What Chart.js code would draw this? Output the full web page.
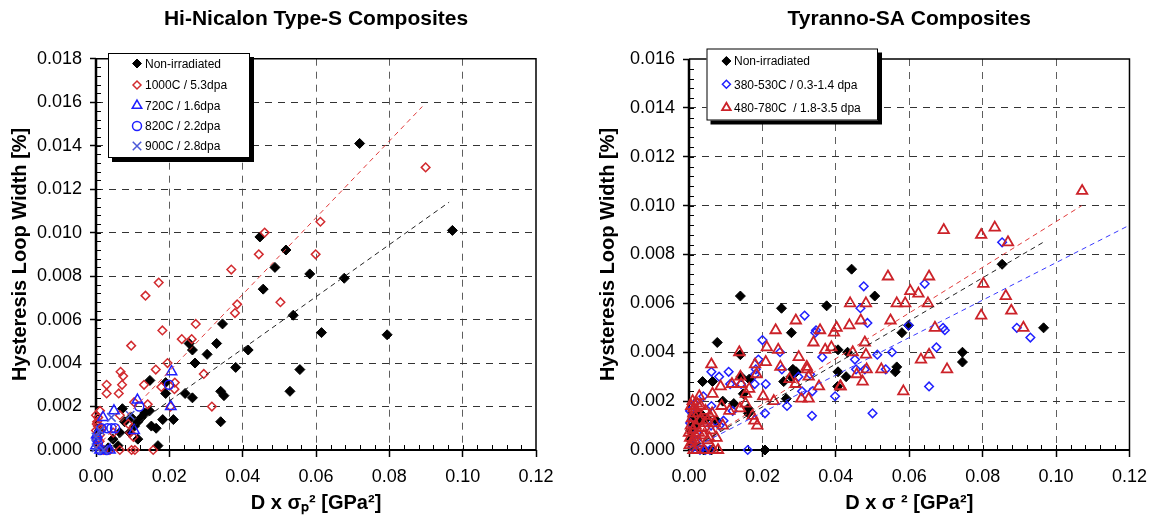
<!DOCTYPE html>
<html><head><meta charset="utf-8">
<script src="https://cdn.jsdelivr.net/npm/chart.js@4.4.1/dist/chart.umd.min.js"></script>
<style>
html,body{margin:0;padding:0;background:#fff;overflow:hidden;width:1156px;height:517px;}
.wrap{position:absolute;top:0;width:578px;height:517px;}
</style></head><body>
<div class="wrap" style="left:0"><canvas id="c1" width="578" height="517"></canvas></div>
<div class="wrap" style="left:578px"><canvas id="c2" width="578" height="517"></canvas></div>
<script>
// ---------- Hi-Nicalon Type-S (left) ----------
const hnTitle = 'Hi-Nicalon Type-S Composites';
const hnLabels = ['Non-irradiated','1000C / 5.3dpa','720C / 1.6dpa','820C / 2.2dpa','900C / 2.8dpa'];
const hnNonIrr = [[0.0719,0.0141],[0.0972,0.0101],[0.0447,0.0098],[0.0518,0.0092],[0.0488,0.0084],[0.0456,0.0074],[0.0583,0.0081],[0.0677,0.0079],[0.0538,0.0062],[0.0615,0.0054],[0.0794,0.0053],[0.0345,0.0058],[0.0329,0.0049],[0.0303,0.0044],[0.0415,0.0046],[0.0254,0.0049],[0.0263,0.0046],[0.0270,0.0040],[0.0381,0.0038],[0.0556,0.0037],[0.0529,0.0027],[0.0340,0.0027],[0.0349,0.0025],[0.0340,0.0013],[0.0243,0.0026],[0.0263,0.0024],[0.0211,0.0014],[0.0190,0.0026],[0.0190,0.0031],[0.0182,0.0014],[0.0147,0.0032],[0.0146,0.0018],[0.0133,0.0017],[0.0124,0.0015],[0.0072,0.0019],[0.0096,0.0015],[0.0114,0.0013],[0.0105,0.0011],[0.0092,0.0008],[0.0114,0.0005],[0.0151,0.0011],[0.0164,0.0010],[0.0169,0.0002],[0.0046,0.0005],[0.0060,0.0002],[0.0033,0.0001],[0.0078,0.0013],[0.0065,0.0008],[0.0010,0.0009]];
const hn1000C = [[0.0899,0.0130],[0.0612,0.0105],[0.0460,0.0100],[0.0444,0.0090],[0.0599,0.0090],[0.0369,0.0083],[0.0171,0.0077],[0.0135,0.0071],[0.0385,0.0067],[0.0379,0.0063],[0.0503,0.0068],[0.0181,0.0055],[0.0272,0.0058],[0.0234,0.0051],[0.0261,0.0051],[0.0096,0.0048],[0.0163,0.0037],[0.0195,0.0040],[0.0294,0.0035],[0.0067,0.0036],[0.0074,0.0034],[0.0029,0.0030],[0.0029,0.0026],[0.0062,0.0026],[0.0071,0.0030],[0.0131,0.0030],[0.0178,0.0029],[0.0215,0.0031],[0.0214,0.0028],[0.0316,0.0020],[0.0141,0.0021],[0.0104,0.0022],[0.0203,0.0020],[0.0088,0.0012],[0.0065,0.0016],[0.0047,0.0008],[0.0011,0.0018],[0.0006,0.0015],[0.0002,0.0012],[0.0000,0.0009],[0.0002,0.0005],[0.0011,0.0007],[0.0065,0.0000],[0.0097,0.0000],[0.0106,0.0000],[0.0156,0.0000],[0.0038,0.0000],[0.0020,0.0000],[0.0006,0.0002],[0.0102,0.0006],[0.0093,0.0008],[0.0000,0.0016],[0.0005,0.0011],[0.0003,0.0013],[0.0010,0.0004],[0.0015,0.0010]];
const hn720C = [[0.0206,0.0036],[0.0204,0.0020],[0.0113,0.0023],[0.0104,0.0009],[0.0049,0.0018],[0.0019,0.0015],[0.0011,0.0000],[0.0038,0.0000],[0.0002,0.0007],[0.0000,0.0002]];
const hn820C = [[0.0199,0.0030],[0.0118,0.0020],[0.0031,0.0010],[0.0042,0.0010],[0.0052,0.0010],[0.0015,0.0010],[0.0002,0.0005],[0.0005,0.0003],[0.0011,0.0000],[0.0029,0.0000]];
const hn900C = [[0.0093,0.0016],[0.0042,0.0015],[0.0011,0.0009],[0.0000,0.0001],[0.0000,0.0006],[0.0020,0.0000]];
const hnFit1000X = [0.0000, 0.0890], hnFit1000Y = [0.0001, 0.0158];
const hnFitNonX = [0.0020, 0.0963], hnFitNonY = [0.0001, 0.0114];

// ---------- Tyranno-SA (right) ----------
const tsTitle = 'Tyranno-SA Composites';
const tsLabels = ['Non-irradiated','380-530C / 0.3-1.4 dpa','480-780C  / 1.8-3.5 dpa'];
const tsNonIrr = [[0.0443,0.0074],[0.0853,0.0076],[0.0966,0.0050],[0.0745,0.0040],[0.0745,0.0036],[0.0506,0.0063],[0.0580,0.0048],[0.0598,0.0051],[0.0566,0.0034],[0.0562,0.0032],[0.0406,0.0041],[0.0432,0.0040],[0.0406,0.0032],[0.0405,0.0026],[0.0428,0.0030],[0.0375,0.0059],[0.0252,0.0058],[0.0279,0.0048],[0.0283,0.0033],[0.0292,0.0032],[0.0278,0.0030],[0.0258,0.0028],[0.0265,0.0021],[0.0140,0.0063],[0.0077,0.0044],[0.0140,0.0039],[0.0142,0.0030],[0.0164,0.0029],[0.0148,0.0023],[0.0161,0.0017],[0.0162,0.0015],[0.0037,0.0028],[0.0064,0.0028],[0.0092,0.0020],[0.0122,0.0019],[0.0031,0.0015],[0.0012,0.0010],[0.0048,0.0013],[0.0075,0.0012],[0.0005,0.0004],[0.0207,0.0000],[0.0061,0.0000],[0.0040,0.0000],[0.0013,0.0014],[0.0035,0.0014],[0.0005,0.0008],[0.0025,0.0011]];
const ts380 = [[0.0853,0.0085],[0.0642,0.0068],[0.0476,0.0067],[0.0467,0.0058],[0.0486,0.0052],[0.0315,0.0055],[0.0200,0.0045],[0.0344,0.0048],[0.0346,0.0049],[0.0598,0.0051],[0.0692,0.0050],[0.0697,0.0049],[0.0893,0.0050],[0.0930,0.0046],[0.0674,0.0042],[0.0553,0.0040],[0.0513,0.0039],[0.0363,0.0038],[0.0452,0.0037],[0.0455,0.0033],[0.0479,0.0033],[0.0536,0.0033],[0.0248,0.0040],[0.0253,0.0033],[0.0189,0.0037],[0.0182,0.0033],[0.0179,0.0027],[0.0209,0.0027],[0.0298,0.0030],[0.0308,0.0024],[0.0336,0.0024],[0.0330,0.0031],[0.0398,0.0022],[0.0335,0.0014],[0.0267,0.0018],[0.0207,0.0015],[0.0654,0.0026],[0.0500,0.0015],[0.0061,0.0032],[0.0082,0.0030],[0.0108,0.0032],[0.0112,0.0027],[0.0142,0.0027],[0.0180,0.0031],[0.0016,0.0019],[0.0039,0.0022],[0.0061,0.0018],[0.0119,0.0016],[0.0094,0.0012],[0.0160,0.0000],[0.0057,0.0000],[0.0030,0.0000],[0.0010,0.0001],[0.0003,0.0011],[0.0021,0.0007],[0.0083,0.0010],[0.0020,0.0004],[0.0060,0.0010],[0.0003,0.0016],[0.0045,0.0000]];
const ts480 = [[0.1071,0.0106],[0.0694,0.0090],[0.0796,0.0088],[0.0833,0.0091],[0.0869,0.0085],[0.0542,0.0071],[0.0654,0.0071],[0.0603,0.0065],[0.0625,0.0064],[0.0439,0.0060],[0.0482,0.0060],[0.0566,0.0060],[0.0589,0.0060],[0.0651,0.0060],[0.0802,0.0068],[0.0863,0.0063],[0.0878,0.0057],[0.0796,0.0055],[0.0549,0.0053],[0.0468,0.0053],[0.0437,0.0051],[0.0670,0.0050],[0.0911,0.0050],[0.0479,0.0044],[0.0446,0.0040],[0.0482,0.0039],[0.0484,0.0033],[0.0457,0.0031],[0.0473,0.0028],[0.0524,0.0033],[0.0632,0.0037],[0.0654,0.0039],[0.0703,0.0033],[0.0584,0.0024],[0.0412,0.0026],[0.0291,0.0053],[0.0236,0.0049],[0.0212,0.0042],[0.0243,0.0041],[0.0299,0.0038],[0.0339,0.0044],[0.0357,0.0049],[0.0395,0.0048],[0.0402,0.0050],[0.0371,0.0041],[0.0388,0.0042],[0.0137,0.0040],[0.0061,0.0035],[0.0180,0.0035],[0.0209,0.0036],[0.0249,0.0034],[0.0321,0.0034],[0.0326,0.0030],[0.0354,0.0026],[0.0306,0.0021],[0.0326,0.0021],[0.0413,0.0026],[0.0231,0.0020],[0.0086,0.0026],[0.0064,0.0023],[0.0140,0.0030],[0.0142,0.0027],[0.0184,0.0031],[0.0164,0.0025],[0.0155,0.0023],[0.0202,0.0022],[0.0139,0.0017],[0.0110,0.0016],[0.0092,0.0010],[0.0057,0.0014],[0.0186,0.0010],[0.0178,0.0012],[0.0173,0.0014],[0.0028,0.0022],[0.0012,0.0015],[0.0079,0.0000],[0.0020,0.0000],[0.0010,0.0008],[0.0040,0.0006],[0.0060,0.0008],[0.0015,0.0004],[0.0005,0.0010],[0.0050,0.0012],[0.0089,0.0018],[0.0154,0.0019],[0.0117,0.0027],[0.0274,0.0029],[0.0290,0.0027],[0.0322,0.0033],[0.0003,0.0005],[0.0008,0.0013],[0.0030,0.0012],[0.0006,0.0018],[0.0025,0.0015],[0.0045,0.0016],[0.0035,0.0009],[0.0002,0.0002],[0.0000,0.0007],[0.0018,0.0006],[0.0028,0.0003],[0.0012,0.0000],[0.0040,0.0000],[0.0066,0.0000],[0.0022,0.0019],[0.0050,0.0004],[0.0070,0.0011],[0.0010,0.0020],[0.0032,0.0018],[0.0008,0.0003],[0.0042,0.0011],[0.0055,0.0005],[0.0018,0.0010],[0.0027,0.0007],[0.0063,0.0015],[0.0075,0.0005],[0.0013,0.0017]];
const tsFitNonX = [0.0000, 0.0965], tsFitNonY = [0.0000, 0.0085];
const tsFit380X = [0.0000, 0.1200], tsFit380Y = [0.0000, 0.0092];
const tsFit480X = [0.0000, 0.1070], tsFit480Y = [0.0000, 0.0100];

const xTicks = ['0.00','0.02','0.04','0.06','0.08','0.10','0.12'];

// ---------- helpers ----------
const FONT = '"Liberation Sans", Arial, Helvetica, sans-serif';
const pts = a => a.map(p => ({x: p[0], y: p[1]}));
const seg = (xs, ys) => xs.map((x, i) => ({x: x, y: ys[i]}));
const RED = '#d22a2e', BLUE = '#1f1fff', XBLUE = '#4a58d8';

const decor = {
  id: 'decor',
  beforeDatasetsDraw(chart, args, o) {
    const {ctx, chartArea: a, scales: {x, y}} = chart;
    ctx.save();
    ctx.strokeStyle = '#000'; ctx.lineWidth = 1;
    ctx.beginPath();
    for (let i = 1; i * o.yMinor < y.max - 1e-9; i++) {
      const py = Math.round(y.getPixelForValue(i * o.yMinor)) + 0.5;
      ctx.moveTo(a.left, py); ctx.lineTo(a.left + 5, py);
    }
    for (let i = 1; i * o.xMinor < x.max - 1e-9; i++) {
      const px = Math.round(x.getPixelForValue(i * o.xMinor)) + 0.5;
      ctx.moveTo(px, a.bottom); ctx.lineTo(px, a.bottom - 5);
    }
    ctx.stroke();
    ctx.lineWidth = 1.5;
    ctx.beginPath(); ctx.moveTo(a.left, a.top); ctx.lineTo(a.right, a.top); ctx.lineTo(a.right, a.bottom); ctx.stroke();
    ctx.lineWidth = 2;
    ctx.beginPath(); ctx.moveTo(a.left - 1, a.bottom); ctx.lineTo(a.right, a.bottom); ctx.stroke();
    ctx.lineWidth = 2.5;
    ctx.beginPath(); ctx.moveTo(a.left, a.top); ctx.lineTo(a.left, a.bottom + 1); ctx.stroke();
    ctx.restore();
  }
};

const boxLegend = {
  id: 'boxLegend',
  afterDatasetsDraw(chart, args, o) {
    const ctx = chart.ctx;
    ctx.save();
    ctx.fillStyle = '#000';
    ctx.fillRect(o.x + o.sx, o.y + o.sy, o.w, o.h);
    ctx.fillStyle = '#fff';
    ctx.fillRect(o.x, o.y, o.w, o.h);
    ctx.strokeStyle = '#000'; ctx.lineWidth = 1;
    ctx.strokeRect(o.x + 0.5, o.y + 0.5, o.w - 1, o.h - 1);
    o.items.forEach((di, i) => {
      const ds = chart.data.datasets[di];
      const py = o.rowY[i];
      ctx.save();
      ctx.fillStyle = ds.backgroundColor;
      ctx.strokeStyle = ds.borderColor;
      ctx.lineWidth = ds.borderWidth;
      Chart.helpers.drawPoint(ctx, {pointStyle: ds.pointStyle, radius: o.mr[i], borderWidth: ds.borderWidth, rotation: 0}, o.mx, py);
      ctx.restore();
      ctx.fillStyle = '#000';
      ctx.font = '12px ' + FONT;
      ctx.textBaseline = 'middle';
      ctx.textAlign = 'left';
      ctx.fillText(ds.label, o.tx, py + 1);
    });
    ctx.restore();
  }
};

function scalesFor(o) {
  const gridCol = (max, col) => c => (c.tick && (Math.abs(c.tick.value) < 1e-9 || Math.abs(c.tick.value - max) < 1e-9)) ? 'rgba(0,0,0,0)' : col;
  return {
    x: {
      type: 'linear', position: 'bottom', min: 0, max: 0.12,
      ticks: {stepSize: 0.02, callback: (v, i) => xTicks[i] !== undefined ? xTicks[i] : Number(v).toFixed(2), color: '#000', font: {family: FONT, size: 18}, padding: 9, maxRotation: 0, autoSkip: false},
      grid: {color: gridCol(0.12, '#5e5e5e'), lineWidth: 1, drawTicks: true, tickLength: 7, tickColor: '#000', tickWidth: 1.5},
      border: {display: false, dash: [7, 6]},
      title: {display: true, text: o.xTitle, color: '#000', font: {family: FONT, size: 20, weight: 'bold'}, padding: {top: 0, bottom: 1.5}},
      afterFit: s => { s.height = 67; }
    },
    y: {
      type: 'linear', position: 'left', min: 0, max: o.yMax,
      ticks: {stepSize: 0.002, callback: v => Number(v).toFixed(3), color: '#000', font: {family: FONT, size: 18}, padding: 8, autoSkip: false},
      grid: {color: gridCol(o.yMax, '#333333'), lineWidth: 1, drawTicks: true, tickLength: 6, tickColor: '#000', tickWidth: 1.5},
      border: {display: false, dash: [7, 6]},
      title: {display: true, text: 'Hysteresis Loop Width [%]', color: '#000', font: {family: FONT, size: 20, weight: 'bold'}, padding: {top: o.yTitlePad, bottom: 0}},
      afterFit: s => { s.width = o.yWidth; }
    }
  };
}

function scatterSet(label, data, style, radius, bg, border, bw, order) {
  return {label, data: pts(data), pointStyle: style, pointRadius: radius, pointHoverRadius: radius,
    backgroundColor: bg, borderColor: border, borderWidth: bw, showLine: false, clip: false, order};
}
function fitSet(xs, ys, color) {
  return {label: '', data: seg(xs, ys), showLine: true, pointRadius: 0, borderColor: color, borderWidth: 1,
    borderDash: [5, 4], fill: false, tension: 0, clip: false, order: 0};
}

Chart.defaults.font.family = FONT;
Chart.defaults.color = '#000';

new Chart(document.getElementById('c1'), {
  type: 'scatter',
  data: {datasets: [
    scatterSet(hnLabels[0], hnNonIrr, 'rectRot', 5, '#000', '#000', 1, 5),
    scatterSet(hnLabels[1], hn1000C, 'rectRot', 4.3, 'rgba(0,0,0,0)', RED, 1.5, 4),
    scatterSet(hnLabels[2], hn720C, 'triangle', 6, 'rgba(0,0,0,0)', BLUE, 1.5, 3),
    scatterSet(hnLabels[3], hn820C, 'circle', 4.5, 'rgba(0,0,0,0)', BLUE, 1.5, 2),
    scatterSet(hnLabels[4], hn900C, 'crossRot', 6, 'rgba(0,0,0,0)', XBLUE, 1.5, 1),
    fitSet(hnFit1000X, hnFit1000Y, '#e03a3a'),
    fitSet(hnFitNonX, hnFitNonY, '#222')
  ]},
  options: {
    responsive: false, animation: false, devicePixelRatio: 1,
    layout: {padding: {left: 0, right: 42, top: 0, bottom: 0}},
    scales: scalesFor({xTitle: 'D x σₚ² [GPa²]', yMax: 0.018, yTitlePad: 8.8, yWidth: 96}),
    plugins: {
      legend: {display: false}, tooltip: {enabled: false},
      title: {display: true, fullSize: false, text: hnTitle, color: '#000', font: {family: FONT, size: 21, weight: 'bold'}, padding: {top: 6.8, bottom: 26.7}},
      decor: {xMinor: 0.004, yMinor: 0.0004},
      boxLegend: {x: 108, y: 53, w: 142, h: 105, sx: 4, sy: 4, items: [0,1,2,3,4], rowY: [63.5, 85, 105.5, 126, 146], mx: 137, tx: 145, mr: [4.5, 4, 5.5, 4.5, 6]}
    }
  },
  plugins: [decor, boxLegend]
});

new Chart(document.getElementById('c2'), {
  type: 'scatter',
  data: {datasets: [
    scatterSet(tsLabels[0], tsNonIrr, 'rectRot', 5, '#000', '#000', 1, 5),
    scatterSet(tsLabels[1], ts380, 'rectRot', 4.3, 'rgba(0,0,0,0)', BLUE, 1.5, 4),
    scatterSet(tsLabels[2], ts480, 'triangle', 6, 'rgba(0,0,0,0)', '#cc2229', 1.8, 3),
    fitSet(tsFitNonX, tsFitNonY, '#222'),
    fitSet(tsFit380X, tsFit380Y, '#3a3aff'),
    fitSet(tsFit480X, tsFit480Y, '#e03a3a')
  ]},
  options: {
    responsive: false, animation: false, devicePixelRatio: 1,
    layout: {padding: {left: 0, right: 24, top: 0, bottom: 0}},
    scales: scalesFor({xTitle: 'D x σ ² [GPa²]', yMax: 0.016, yTitlePad: 18.6, yWidth: 111}),
    plugins: {
      legend: {display: false}, tooltip: {enabled: false},
      title: {display: true, fullSize: false, text: tsTitle, color: '#000', font: {family: FONT, size: 21, weight: 'bold'}, padding: {top: 6.8, bottom: 27}},
      decor: {xMinor: 0.004, yMinor: 0.0004},
      boxLegend: {x: 128.5, y: 48.5, w: 171.5, h: 72, sx: 4, sy: 4, items: [0,1,2], rowY: [61, 84.3, 107.7], mx: 148.4, tx: 156, mr: [4.5, 4, 5]}
    }
  },
  plugins: [decor, boxLegend]
});
</script>
</body></html>
